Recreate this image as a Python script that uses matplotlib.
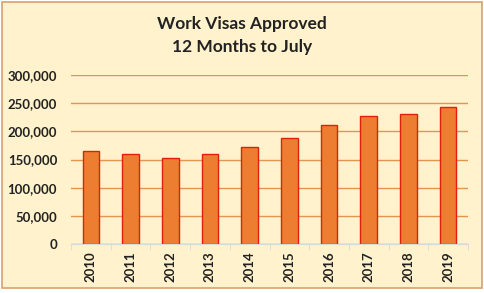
import matplotlib
matplotlib.use("Agg")
import matplotlib.pyplot as plt
from matplotlib.patches import Rectangle
from matplotlib.ticker import FuncFormatter, FixedLocator

years = ["2010", "2011", "2012", "2013", "2014", "2015", "2016", "2017", "2018", "2019"]
visas = [165000, 159000, 152000, 159000, 172000, 188000, 211000, 228000, 230000, 243000]
title_lines = ["Work Visas Approved", "12 Months to July"]

W, H = 485, 293
fig = plt.figure(figsize=(W / 100, H / 100), dpi=100, facecolor="white")
plt.rcParams['font.family'] = ['Lato', 'DejaVu Sans']

# chart area background
bg = Rectangle((2 / W, 1 - 288 / H), 480 / W, 286 / H, transform=fig.transFigure,
               facecolor="#FFF2CC", edgecolor="#D9A070", linewidth=1.2, zorder=-10)
fig.patches.append(bg)

left, right, top, bottom = 71, 468, 75, 244
ax = fig.add_axes([left / W, 1 - bottom / H, (right - left) / W, (bottom - top) / H])
ax.set_facecolor("none")
ax.set_zorder(1)

x = range(len(years))
ax.bar(x, visas, width=0.42, color="#ED7D31", edgecolor="#E0200A", linewidth=1.0, zorder=3)
ax.set_xlim(-0.5, len(years) - 0.5)
ax.set_ylim(0, 300000)
ax.set_yticks(range(0, 300001, 50000))
ax.yaxis.set_major_formatter(FuncFormatter(lambda v, p: f"{int(v):,}"))
ax.yaxis.grid(True, color="#E3944F", linewidth=1.0, zorder=0)
ax.set_axisbelow(True)

ax.set_xticks(list(x))
ax.set_xticklabels(years, rotation=90, fontweight="bold", fontsize=9.5, color="#222222")
ax.xaxis.set_minor_locator(FixedLocator([i - 0.5 for i in range(len(years) + 1)]))
ax.tick_params(axis="x", which="major", length=0, pad=5)
ax.tick_params(axis="x", which="minor", length=4, color="#D9D9D9", direction="out")
ax.tick_params(axis="y", length=0, pad=10, labelsize=9.5, labelcolor="#222222")
for lab in ax.get_yticklabels():
    lab.set_fontweight("bold")

for s in ["left", "right", "top"]:
    ax.spines[s].set_visible(False)
ax.spines["bottom"].set_color("#D9D9D9")
ax.spines["bottom"].set_zorder(4)

fig.text(242 / W, 1 - 24 / H, title_lines[0], ha="center", va="center",
         fontsize=12.5, fontweight="bold", color="#222222")
fig.text(242 / W, 1 - 47 / H, title_lines[1], ha="center", va="center",
         fontsize=12.5, fontweight="bold", color="#222222")

fig.savefig("out.png", dpi=100, facecolor="white")
